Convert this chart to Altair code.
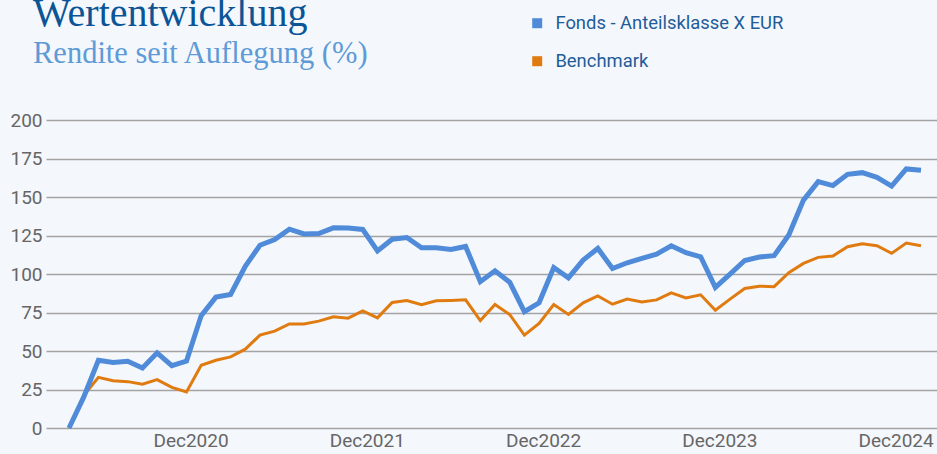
import altair as alt
import pandas as pd

# Categories (monthly, Apr 2020 .. Feb 2025)
months = pd.date_range("2020-04-01", periods=59, freq="MS").strftime("%b%Y").tolist()
series_names = ["Fonds - Anteilsklasse X EUR", "Benchmark"]
x_tick_labels = ["Dec2020", "Dec2021", "Dec2022", "Dec2023", "Dec2024"]
y_tick_values = [0, 25, 50, 75, 100, 125, 150, 175, 200]

fonds = [0, 20, 44, 42.5, 43.3, 39, 48.8, 40.5, 43.5, 73,
         85, 86.7, 105, 118.7, 122.4, 129.1, 126, 126.3, 130, 129.8,
         128.9, 115, 122.6, 123.7, 117, 117, 115.9, 117.9, 95, 102.1,
         94.7, 75.5, 81.3, 104.2, 97.5, 109, 116.6, 103.6, 107.3, 110.1,
         112.9, 118.3, 113.8, 111.2, 91.3, 99.9, 108.8, 111, 111.9, 125.3,
         148, 160, 157.4, 164.7, 165.8, 162.8, 157.1, 168.2, 167.3]
benchmark = [0, 21, 32.9, 30.7, 30.1, 28.4, 31.4, 26.4, 23.4, 40.7,
             44.0, 46.2, 51.2, 60.3, 62.9, 67.6, 67.6, 69.4, 72.2, 71.3,
             76.1, 71.5, 81.5, 82.8, 80, 82.6, 82.8, 83.2, 69.8, 80.2,
             73.7, 60.3, 67.9, 80.2, 73.7, 81.3, 85.8, 80.4, 83.7, 81.9,
             83.2, 87.8, 84.5, 86.5, 76.5, 83.7, 90.6, 92.1, 91.8, 100.9,
             106.9, 110.8, 111.7, 117.7, 119.7, 118.4, 113.4, 120.1, 118.4]

title_text = "Wertentwicklung"
subtitle_text = "Rendite seit Auflegung (%)"

colors = ["#4F8BD8", "#E07B10"]

month_index = list(range(len(months)))
tick_index = [months.index(m) for m in x_tick_labels]

df = pd.DataFrame({
    "Monat": months * 2,
    "Index": month_index * 2,
    "Rendite": fonds + benchmark,
    "Serie": [series_names[0]] * len(fonds) + [series_names[1]] * len(benchmark),
})

label_lookup = "{" + ",".join(f"'{i}':'{m}'" for i, m in zip(tick_index, x_tick_labels)) + "}"

x_enc = alt.X(
    "Index:Q",
    scale=alt.Scale(domain=[-1.566, 59.09], nice=False, zero=False),
    axis=alt.Axis(values=tick_index, labelExpr=f"{label_lookup}[''+datum.value]",
                  labelAngle=0, title=None, ticks=False, labelFlush=False,
                  domain=False, grid=False, labelFont="Roboto", labelFontSize=19,
                  labelColor="#666666", labelPadding=3, labelOffset=4),
)
y_enc = alt.Y(
    "Rendite:Q",
    scale=alt.Scale(domain=[0, 200], nice=False, zero=True),
    axis=alt.Axis(values=y_tick_values, title=None, ticks=False, domain=False,
                  grid=True, gridColor="#A3A3A3", gridWidth=1.3,
                  labelFont="Roboto", labelFontSize=19, labelColor="#666666",
                  labelPadding=4),
)
color_enc = alt.Color(
    "Serie:N",
    scale=alt.Scale(domain=series_names, range=colors),
    legend=alt.Legend(title=None, orient="none", legendX=482, legendY=-106,
                      symbolType="square", symbolSize=1, symbolStrokeWidth=9,
                      labelFont="Roboto", labelFontSize=18.4, labelColor="#1F5C99",
                      labelOffset=9, labelLimit=0, rowPadding=0, padding=0),
)

base = alt.Chart(df).encode(x=x_enc, y=y_enc, color=color_enc,
                            tooltip=["Monat:N", "Serie:N", "Rendite:Q"])

bench_line = base.transform_filter(alt.datum.Serie == series_names[1]).mark_line(strokeWidth=3)
fonds_line = base.transform_filter(alt.datum.Serie == series_names[0]).mark_line(strokeWidth=5)

title_layer = alt.Chart(pd.DataFrame({"t": [title_text]})).mark_text(
    font="Liberation Serif", fontSize=40, color="#0B5597", align="left", baseline="alphabetic"
).encode(text="t:N", x=alt.value(-13), y=alt.value(-94))

subtitle_layer = alt.Chart(pd.DataFrame({"t": [subtitle_text]})).mark_text(
    font="Liberation Serif", fontSize=30.5, color="#5E9BD6", align="left", baseline="alphabetic"
).encode(text="t:N", x=alt.value(-13), y=alt.value(-57))

chart = alt.layer(bench_line, fonds_line, title_layer, subtitle_layer).properties(
    width=891, height=308,
    padding={"left": 46, "top": 120, "right": 0, "bottom": 26},
    autosize=alt.AutoSizeParams(type="none"),
    background="#F4F7FC",
).configure_view(stroke=None)

chart.save("out.html", embed_options={"renderer": "svg", "actions": False})
